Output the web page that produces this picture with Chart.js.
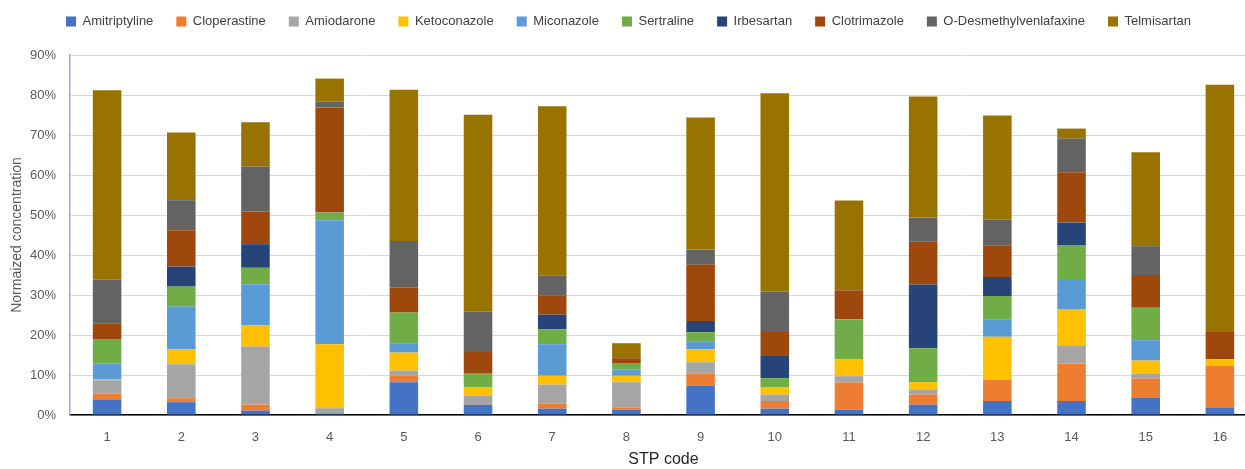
<!DOCTYPE html>
<html>
<head>
<meta charset="utf-8">
<script src="https://cdn.jsdelivr.net/npm/chart.js@4"></script>
<style>
    body { margin: 0; overflow: hidden; background: #fff; }
    .chart-box { width: 1257px; height: 469px; }
</style>
</head>
<body>
<div class="chart-box"><canvas id="stpChart"></canvas></div>
<script>
// data, in % of total
const stpCodes = ["1", "2", "3", "4", "5", "6", "7", "8", "9", "10", "11", "12", "13", "14", "15", "16"];
const yTicks = [0, 10, 20, 30, 40, 50, 60, 70, 80, 90];

const amitriptyline = [3.9, 3.2, 1.1, 0.4, 8.2, 2.5, 1.6, 1.3, 7.3, 1.6, 1.3, 2.6, 3.5, 3.5, 4.4, 1.9];
const cloperastine = [1.5, 1.0, 1.5, 0, 1.7, 0, 1.3, 0.6, 3.1, 1.9, 6.8, 2.5, 5.3, 9.4, 4.7, 10.4];
const amiodarone = [3.3, 8.5, 14.5, 1.3, 1.2, 2.3, 4.7, 6.3, 2.8, 1.6, 1.6, 1.3, 0, 4.5, 1.3, 0];
const ketoconazole = [0.3, 3.7, 5.3, 16.0, 4.5, 2.2, 2.2, 1.6, 3.2, 1.9, 4.2, 1.8, 10.75, 9.1, 3.2, 1.7];
const miconazole = [3.9, 10.7, 10.3, 31.0, 2.2, 0, 7.9, 1.6, 1.9, 0, 0, 0, 4.4, 7.5, 5.1, 0];
const sertraline = [6.1, 5.0, 4.1, 1.9, 7.8, 3.5, 3.7, 1.6, 2.4, 2.2, 10.0, 8.5, 5.8, 8.5, 8.1, 0];
const irbesartan = [0, 5.0, 5.9, 0, 0, 0, 3.7, 0, 2.8, 5.75, 0, 15.9, 4.75, 5.6, 0, 0];
const clotrimazole = [3.9, 9.1, 8.2, 26.3, 6.2, 5.25, 4.7, 1.2, 14.1, 5.8, 7.25, 10.75, 7.8, 12.6, 8.2, 6.75];
const oDesmethylvenlafaxine = [11.0, 7.5, 11.2, 1.5, 11.7, 10.1, 5.1, 0, 3.75, 10.1, 0, 6.0, 6.5, 8.4, 7.2, 0];
const telmisartan = [47.3, 16.9, 11.1, 5.7, 37.8, 49.2, 42.3, 3.75, 33.0, 49.6, 22.5, 30.3, 26.1, 2.5, 23.5, 61.8];

const seriesNames = ["Amitriptyline", "Cloperastine", "Amiodarone", "Ketoconazole", "Miconazole",
    "Sertraline", "Irbesartan", "Clotrimazole", "O-Desmethylvenlafaxine", "Telmisartan"];
const seriesValues = [amitriptyline, cloperastine, amiodarone, ketoconazole, miconazole,
    sertraline, irbesartan, clotrimazole, oDesmethylvenlafaxine, telmisartan];

// office palette
const seriesColors = ["#4472C4", "#ED7D31", "#A5A5A5", "#FFC000", "#5B9BD5",
    "#70AD47", "#264478", "#9E480E", "#636363", "#997300"];

const fontFamily = "'Liberation Sans', Arial, sans-serif";

let datasets = seriesNames.map(function (name, i) {
    return {
        label: name,
        data: seriesValues[i],
        backgroundColor: seriesColors[i],
        borderWidth: 0,
        categoryPercentage: 1.0,
        barPercentage: 0.385
    };
});

// give the legend a fixed height so the plot starts lower
const legendHeight = {
    id: "legendHeight",
    beforeInit: function (chart) {
        const origFit = chart.legend.fit;
        chart.legend.fit = function () {
            origFit.bind(chart.legend)();
            this.height = 63;
        };
    }
};

const ctx = document.getElementById("stpChart");

new Chart(ctx, {
    type: "bar",
    data: {
        labels: stpCodes,
        datasets: datasets
    },
    plugins: [legendHeight],
    options: {
        responsive: true,
        maintainAspectRatio: false,
        animation: false,
        layout: {
            padding: { top: -8, left: 0, right: 0, bottom: 0 }
        },
        plugins: {
            legend: {
                position: "top",
                labels: {
                    boxWidth: 10,
                    boxHeight: 10,
                    padding: 23,
                    color: "#404040",
                    font: { family: fontFamily, size: 13 }
                }
            },
            tooltip: { enabled: false }
        },
        scales: {
            x: {
                stacked: true,
                grid: { display: false },
                border: { color: "#000000", width: 1.5 },
                ticks: {
                    color: "#595959",
                    padding: 7,
                    font: { family: fontFamily, size: 13 }
                },
                title: {
                    display: true,
                    text: "STP code",
                    color: "#262626",
                    padding: { top: 4, bottom: 0 },
                    font: { family: fontFamily, size: 16 }
                },
                afterFit: function (scale) { scale.height = 54; }
            },
            y: {
                stacked: true,
                min: 0,
                max: 90,
                afterBuildTicks: function (scale) {
                    scale.ticks = yTicks.map(function (v) { return { value: v }; });
                },
                grid: { color: "#d9d9d9", lineWidth: 1, tickLength: 0 },
                border: { color: "#8EA9DB", width: 1.5 },
                ticks: {
                    color: "#595959",
                    padding: 14,
                    font: { family: fontFamily, size: 13 },
                    callback: function (value) { return value + "%"; }
                },
                title: {
                    display: true,
                    text: "Normaized concentration",
                    color: "#595959",
                    padding: { top: 9, bottom: 0 },
                    font: { family: fontFamily, size: 14 }
                },
                afterFit: function (scale) { scale.width = 70; }
            }
        }
    }
});
</script>
</body>
</html>
